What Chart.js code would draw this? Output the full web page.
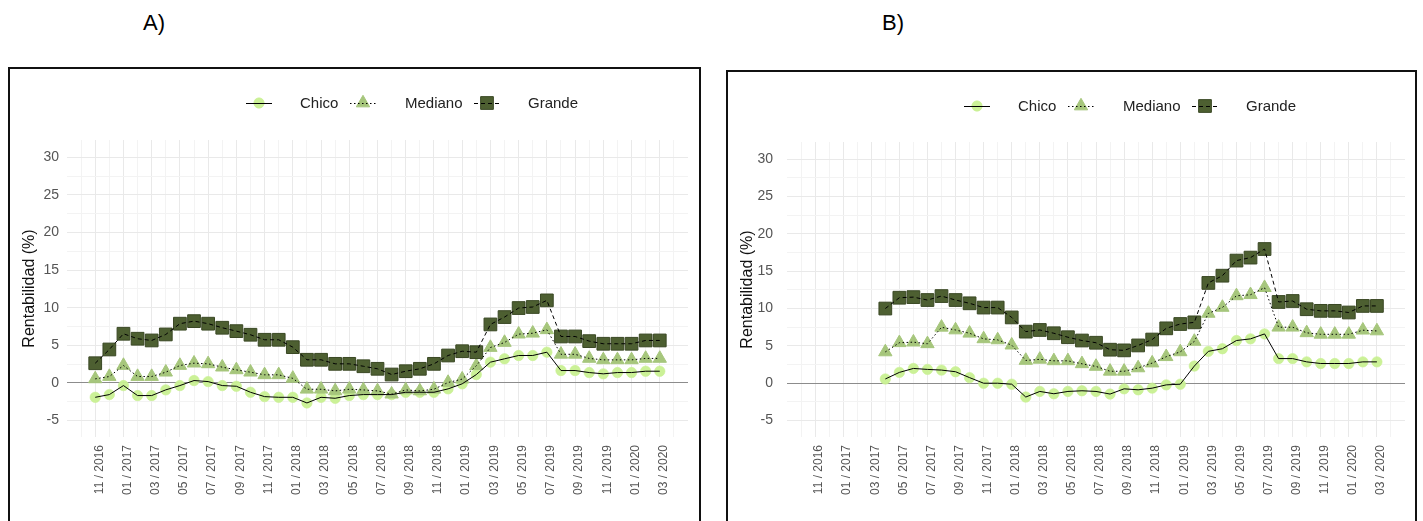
<!DOCTYPE html>
<html>
<head>
<meta charset="utf-8">
<script src="https://cdn.jsdelivr.net/npm/chart.js@4.4.1/dist/chart.umd.min.js"></script>
<style>
  html, body { margin: 0; padding: 0; background: #fff; }
  body { width: 1423px; height: 521px; position: relative; overflow: hidden;
         font-family: "Liberation Sans", Arial, sans-serif; }
  .tag { position: absolute; top: 12px; font-size: 22px; line-height: 22px; color: #000; }
  .panel { position: absolute; border: 2px solid #111; box-sizing: border-box; }
  .panel canvas { position: absolute; left: 0; top: 0; }
</style>
</head>
<body>
<div class="tag" style="left:143px">A)</div>
<div class="tag" style="left:882px">B)</div>
<div class="panel" style="left:8px;top:67px;width:693px;height:480px">
  <canvas id="chartA" width="689" height="452"></canvas>
</div>
<div class="panel" style="left:726px;top:70px;width:691px;height:480px">
  <canvas id="chartB" width="687" height="449"></canvas>
</div>
<script>
// Monthly periods on the x axis (Nov 2016 .. Mar 2020)
const months = ['11 / 2016','12 / 2016','01 / 2017','02 / 2017','03 / 2017','04 / 2017','05 / 2017','06 / 2017',
  '07 / 2017','08 / 2017','09 / 2017','10 / 2017','11 / 2017','12 / 2017','01 / 2018','02 / 2018','03 / 2018',
  '04 / 2018','05 / 2018','06 / 2018','07 / 2018','08 / 2018','09 / 2018','10 / 2018','11 / 2018','12 / 2018',
  '01 / 2019','02 / 2019','03 / 2019','04 / 2019','05 / 2019','06 / 2019','07 / 2019','08 / 2019','09 / 2019',
  '10 / 2019','11 / 2019','12 / 2019','01 / 2020','02 / 2020','03 / 2020'];

// Labelled y ticks
const yTickLabels = [-5, 0, 5, 10, 15, 20, 25, 30];

const seriesNames = ['Chico', 'Mediano', 'Grande'];

// Panel A: return (%) by size
const chicoA = [-1.92,-1.56,-0.36,-1.69,-1.69,-0.93,-0.36,0.31,0.17,-0.36,
  -0.45,-1.25,-1.83,-1.92,-1.92,-2.67,-1.92,-2.05,-1.69,-1.56,
  -1.56,-1.56,-1.25,-1.25,-1.25,-0.8,-0.13,1.1,2.75,3.2,
  3.64,3.64,4.08,1.64,1.64,1.37,1.2,1.37,1.37,1.55,1.55];
const medianoA = [0.53,0.84,2.31,0.84,0.84,1.42,2.31,2.62,2.53,2.09,
  1.73,1.42,1.07,1.07,0.6,-0.85,-0.85,-1.07,-0.85,-0.94,
  -1.07,-1.5,-0.94,-1.07,-0.85,0.05,0.5,2.27,4.7,5.37,
  6.48,6.6,7.06,3.8,3.8,3.25,3.06,3.06,3.06,3.25,3.25];
const grandeA = [2.61,4.44,6.53,5.87,5.64,6.44,7.87,8.21,7.87,7.33,
  6.88,6.4,5.73,5.73,4.75,3.07,3.07,2.53,2.53,2.21,
  1.87,1.11,1.55,1.87,2.53,3.64,4.21,4.08,7.77,8.75,
  9.95,10.09,10.97,6.17,6.17,5.55,5.2,5.2,5.2,5.64,5.64];

// Panel B: series start in 04 / 2017
const chicoB = [null,null,null,null,null,
  0.57,1.45,1.98,1.85,1.76,1.54,0.75,0.0,
  0.0,-0.13,-1.85,-1.1,-1.41,-1.1,-1.01,-1.1,-1.45,-0.75,-0.88,-0.66,-0.22,-0.13,2.3,
  4.27,4.62,5.72,5.94,6.6,3.3,3.3,2.86,2.64,2.64,2.64,2.86,2.86];
const medianoB = [null,null,null,null,null,
  4.19,5.42,5.5,5.28,7.49,7.13,6.69,5.94,
  5.8,5.1,3.05,3.2,3.0,3.0,2.6,2.25,1.6,1.6,2.05,2.7,3.55,4.2,5.6,
  9.35,10.15,11.7,11.85,12.8,7.5,7.5,6.75,6.55,6.55,6.55,7.1,7.0];
const grandeB = [null,null,null,null,null,
  10.0,11.45,11.53,11.14,11.67,11.14,10.7,10.13,
  10.13,8.81,6.91,7.13,6.69,6.16,5.72,5.42,4.49,4.4,5.06,5.85,7.35,7.93,8.15,
  13.43,14.4,16.42,16.82,17.97,10.88,11.01,9.91,9.69,9.69,9.47,10.35,10.35];

// Marker and line look of each size group
const looks = {
  Chico:   { pointStyle: 'circle',   radius: 5.2, fill: 'rgba(200,240,145,0.95)', edge: 'rgba(200,240,145,0.6)', dash: [] },
  Mediano: { pointStyle: 'triangle', radius: 7.7, fill: '#a6c67c', edge: '#a6c67c', dash: [1.5, 2.5] },
  Grande:  { pointStyle: 'rect',     radius: 9.0, fill: '#4d5f31', edge: '#3a4824', dash: [4, 3] }
};

const FONT = '"Liberation Sans", Arial, sans-serif';

function toPoints(values) {
  const pts = [];
  values.forEach((v, i) => { if (v !== null) pts.push({ x: i, y: v }); });
  return pts;
}

// Legend drawn as line + marker key followed by its label
const keyLegend = {
  id: 'keyLegend',
  afterDraw(chart, args, opts) {
    const ctx = chart.ctx;
    ctx.save();
    opts.names.forEach((name, k) => {
      const lk = looks[name];
      const cx = opts.keyX[k], y = opts.y;
      ctx.fillStyle = lk.fill;
      ctx.strokeStyle = lk.edge;
      Chart.helpers.drawPoint(ctx, { pointStyle: lk.pointStyle, rotation: 0, radius: lk.radius, borderWidth: 1 }, cx, y);
      ctx.strokeStyle = '#000';
      ctx.lineWidth = 1;
      ctx.setLineDash(lk.dash);
      ctx.beginPath();
      ctx.moveTo(cx - opts.keyW / 2, y + 0.5);
      ctx.lineTo(cx + opts.keyW / 2, y + 0.5);
      ctx.stroke();
      ctx.setLineDash([]);
      ctx.fillStyle = '#222';
      ctx.font = '15px ' + FONT;
      ctx.textBaseline = 'middle';
      ctx.textAlign = 'left';
      ctx.fillText(name, opts.textX[k], y + 1);
    });
    ctx.restore();
  }
};

function makePanel(canvasId, seriesValues, geo) {
  const pointSets = seriesNames.map((name, k) => ({
    label: name,
    data: toPoints(seriesValues[k]),
    showLine: false,
    pointStyle: looks[name].pointStyle,
    pointRadius: looks[name].radius,
    pointBackgroundColor: looks[name].fill,
    pointBorderColor: looks[name].edge,
    pointBorderWidth: 1,
    order: 6 - k
  }));
  const lineSets = seriesNames.map((name, k) => ({
    label: name + ' line',
    data: toPoints(seriesValues[k]),
    showLine: true,
    borderColor: '#000',
    borderWidth: 1,
    borderDash: looks[name].dash,
    pointRadius: 0,
    tension: 0,
    order: 3 - k
  }));

  return new Chart(document.getElementById(canvasId), {
    type: 'scatter',
    data: { datasets: pointSets.concat(lineSets) },
    plugins: [keyLegend],
    options: {
      responsive: false,
      animation: false,
      events: [],
      layout: { padding: { left: 0, right: geo.padRight, top: geo.padTop, bottom: 0 } },
      plugins: {
        legend: { display: false },
        tooltip: { enabled: false },
        keyLegend: { names: seriesNames, y: 34, keyW: 26, keyX: [249, 353, 477], textX: [290, 395, 518] }
      },
      scales: {
        x: {
          type: 'linear',
          min: -2,
          max: 42,
          border: { display: false },
          afterBuildTicks(axis) {
            const t = [];
            for (let m = -1; m <= months.length; m++) t.push({ value: m });
            axis.ticks = t;
          },
          afterFit(axis) { axis.height = geo.xAxisH; },
          grid: {
            drawTicks: false,
            color: c => (c.tick.value % 2 === 0 ? '#e9e9e9' : '#f3f3f3'),
            lineWidth: 1
          },
          ticks: {
            autoSkip: false,
            maxRotation: 90,
            minRotation: 90,
            padding: 8,
            labelOffset: 4,
            color: '#555',
            font: { family: FONT, size: 12 },
            callback: v => (v >= 0 && v < months.length && v % 2 === 0 ? months[v] : '')
          }
        },
        y: {
          type: 'linear',
          min: -7.2,
          max: 32.3,
          border: { display: false },
          afterBuildTicks(axis) {
            const t = [];
            for (let v = -5; v <= 30; v += 2.5) t.push({ value: v });
            axis.ticks = t;
          },
          afterFit(axis) { axis.width = geo.yAxisW; },
          grid: {
            drawTicks: false,
            color: c => (c.tick.value === 0 ? '#8c8c8c' : (c.tick.value % 5 === 0 ? '#e9e9e9' : '#f3f3f3')),
            lineWidth: 1
          },
          ticks: {
            padding: geo.yTickPad,
            color: '#555',
            font: { family: FONT, size: 14 },
            callback: v => (yTickLabels.includes(v) ? String(v) : '')
          },
          title: {
            display: true,
            text: 'Rentabilidad (%)',
            color: '#111',
            font: { family: FONT, size: 16 },
            padding: { top: 10, bottom: 0 }
          }
        }
      }
    }
  });
}

makePanel('chartA', [chicoA, medianoA, grandeA], { padTop: 71, padRight: 11, xAxisH: 84, yAxisW: 57, yTickPad: 8 });
makePanel('chartB', [chicoB, medianoB, grandeB], { padTop: 70, padRight: 8, xAxisH: 84, yAxisW: 59, yTickPad: 14 });
</script>
</body>
</html>
